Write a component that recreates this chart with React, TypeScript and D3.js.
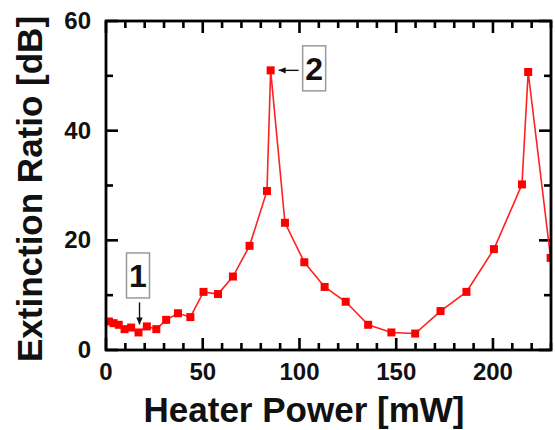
import React, { useEffect, useRef } from "react";
import * as d3 from "d3";

// heater power [mW] / extinction ratio [dB]
const powerMW = [
  1.5, 3.9, 6.6, 9.6, 13.0, 16.8, 21.1, 26.0, 31.1, 37.2, 43.6, 50.4, 57.9,
  65.6, 74.2, 83.2, 85.1, 92.5, 102.5, 113.0, 123.9, 135.5, 147.5, 159.8,
  172.9, 186.3, 200.5, 215.0, 218.2, 229.8,
];
const extinctionDB = [
  5.2, 4.9, 4.6, 3.8, 4.1, 3.2, 4.3, 3.8, 5.5, 6.7, 6.0, 10.6, 10.2, 13.4,
  19.0, 29.0, 51.0, 23.2, 16.0, 11.5, 8.8, 4.6, 3.2, 3.0, 7.1, 10.6, 18.4,
  30.2, 50.7, 16.8,
];
const xTicks = [0, 50, 100, 150, 200];
const yTicks = [0, 20, 40, 60];
// annotations: label, index of the point it marks
const notes = [
  { label: "1", idx: 5 },
  { label: "2", idx: 16 },
];

const W = 555;
const H = 430;
const FONT = "'Liberation Sans', Arial, Helvetica, sans-serif";

export default function App() {
  const svgRef = useRef<SVGSVGElement>(null);

  useEffect(() => {
    const svg = d3.select(svgRef.current);
    svg.selectAll("*").remove();

    const m = { left: 106, top: 21, right: 4, bottom: 80 };
    const iw = W - m.left - m.right;
    const ih = H - m.top - m.bottom;

    const x = d3.scaleLinear().domain([0, 230]).range([0, iw]);
    const y = d3.scaleLinear().domain([0, 60]).range([ih, 0]);

    const g = svg.append("g").attr("transform", `translate(${m.left},${m.top})`);

    // ticks (inward on all four sides)
    const xMinor = d3.range(0, 231, 10);
    const yMinor = d3.range(0, 61, 10);
    const tick = (major: boolean) => (major ? 12 : 7);
    const tg = g.append("g").attr("stroke", "#000").attr("stroke-width", 2.6);
    xMinor.forEach((v) => {
      const L = tick(v % 50 === 0);
      tg.append("line").attr("x1", x(v)).attr("x2", x(v)).attr("y1", ih).attr("y2", ih - L);
      tg.append("line").attr("x1", x(v)).attr("x2", x(v)).attr("y1", 0).attr("y2", L);
    });
    yMinor.forEach((v) => {
      const L = tick(v % 20 === 0);
      tg.append("line").attr("x1", 0).attr("x2", L).attr("y1", y(v)).attr("y2", y(v));
      tg.append("line").attr("x1", iw).attr("x2", iw - L).attr("y1", y(v)).attr("y2", y(v));
    });

    // tick labels
    g.selectAll("text.xt")
      .data(xTicks)
      .join("text")
      .attr("class", "xt")
      .attr("x", (d) => x(d))
      .attr("y", ih + 30)
      .attr("text-anchor", "middle")
      .attr("font-family", FONT)
      .attr("font-weight", 700)
      .attr("font-size", 24)
      .attr("fill", "#111")
      .text((d) => d);
    g.selectAll("text.yt")
      .data(yTicks)
      .join("text")
      .attr("class", "yt")
      .attr("x", -15)
      .attr("y", (d) => y(d) + 8)
      .attr("text-anchor", "end")
      .attr("font-family", FONT)
      .attr("font-weight", 700)
      .attr("font-size", 24)
      .attr("fill", "#111")
      .text((d) => d);

    // axis titles
    svg
      .append("text")
      .attr("x", 304)
      .attr("y", 422)
      .attr("text-anchor", "middle")
      .attr("font-family", FONT)
      .attr("font-weight", 700)
      .attr("font-size", 35)
      .attr("fill", "#111")
      .text("Heater Power [mW]");
    svg
      .append("text")
      .attr("transform", `translate(42,189) rotate(-90)`)
      .attr("text-anchor", "middle")
      .attr("font-family", FONT)
      .attr("font-weight", 700)
      .attr("font-size", 35)
      .attr("fill", "#111")
      .text("Extinction Ratio [dB]");

    // data
    const pts = powerMW.map((p, i) => [p, extinctionDB[i]] as [number, number]);
    g.append("clipPath")
      .attr("id", "plotclip")
      .append("rect")
      .attr("x", -6)
      .attr("y", -6)
      .attr("width", iw + 6)
      .attr("height", ih + 12);
    const dg = g.append("g").attr("clip-path", "url(#plotclip)");
    dg.append("path")
      .datum(pts)
      .attr("fill", "none")
      .attr("stroke", "#ff2020")
      .attr("stroke-width", 1.6)
      .attr(
        "d",
        d3
          .line<[number, number]>()
          .x((d) => x(d[0]))
          .y((d) => y(d[1]))
      );
    dg.selectAll("rect.pt")
      .data(pts)
      .join("rect")
      .attr("class", "pt")
      .attr("x", (d) => x(d[0]) - 4)
      .attr("y", (d) => y(d[1]) - 4)
      .attr("width", 8)
      .attr("height", 8)
      .attr("fill", "#ff0000");

    // frame
    g.append("rect")
      .attr("width", iw)
      .attr("height", ih)
      .attr("fill", "none")
      .attr("stroke", "#000")
      .attr("stroke-width", 2.8);

    // annotations
    const box = (cx: number, cy: number, label: string) => {
      g.append("rect")
        .attr("x", cx - 11.5)
        .attr("y", cy - 22.5)
        .attr("width", 23)
        .attr("height", 45)
        .attr("fill", "#fff")
        .attr("stroke", "#9a9a9a")
        .attr("stroke-width", 1.5);
      g.append("text")
        .attr("x", cx)
        .attr("y", cy + 11.5)
        .attr("text-anchor", "middle")
        .attr("font-family", FONT)
        .attr("font-weight", 700)
        .attr("font-size", 32)
        .attr("fill", "#111")
        .text(label);
    };
    const arrow = (x1: number, y1: number, x2: number, y2: number) => {
      g.append("line")
        .attr("x1", x1)
        .attr("y1", y1)
        .attr("x2", x2)
        .attr("y2", y2)
        .attr("stroke", "#111")
        .attr("stroke-width", 1.4);
      const a = Math.atan2(y2 - y1, x2 - x1);
      const hl = 7;
      const hw = 3.2;
      const bx = x2 - hl * Math.cos(a);
      const by = y2 - hl * Math.sin(a);
      g.append("path")
        .attr(
          "d",
          `M${x2},${y2}L${bx - hw * Math.sin(a)},${by + hw * Math.cos(a)}L${bx + hw * Math.sin(a)},${by - hw * Math.cos(a)}Z`
        )
        .attr("fill", "#111");
    };

    const n1 = notes[0];
    const p1x = x(powerMW[n1.idx]);
    const p1y = y(extinctionDB[n1.idx]);
    arrow(p1x + 1, p1y - 30, p1x + 1, p1y - 8);
    box(p1x - 0.5, p1y - 57, n1.label);

    const n2 = notes[1];
    const p2x = x(powerMW[n2.idx]);
    const p2y = y(extinctionDB[n2.idx]);
    arrow(p2x + 28, p2y, p2x + 8, p2y);
    box(p2x + 43.5, p2y - 2, n2.label);
  }, []);

  return (
    <div>
      <style>{`body{margin:0}`}</style>
      <svg ref={svgRef} width={W} height={H} style={{ display: "block", background: "#fff" }} />
    </div>
  );
}
